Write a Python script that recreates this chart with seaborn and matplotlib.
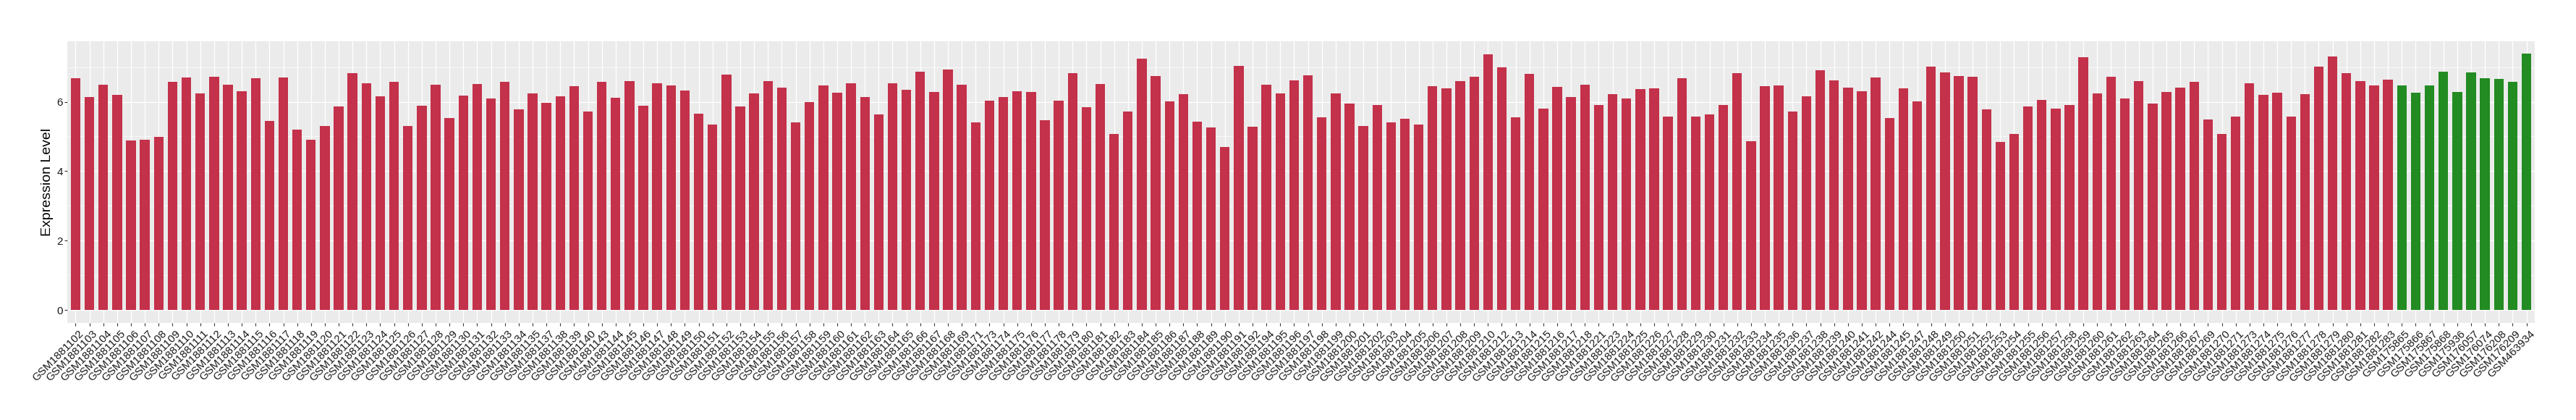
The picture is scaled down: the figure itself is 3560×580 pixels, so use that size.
import matplotlib
matplotlib.use("Agg")
import matplotlib.pyplot as plt
import matplotlib.transforms as mtransforms
from matplotlib.ticker import MultipleLocator
import seaborn as sns
import pandas as pd

samples = [
    "GSM1881102", "GSM1881103", "GSM1881104", "GSM1881105", "GSM1881106", "GSM1881107", "GSM1881108",
    "GSM1881109", "GSM1881110", "GSM1881111", "GSM1881112", "GSM1881113", "GSM1881114", "GSM1881115",
    "GSM1881116", "GSM1881117", "GSM1881118", "GSM1881119", "GSM1881120", "GSM1881121", "GSM1881122",
    "GSM1881123", "GSM1881124", "GSM1881125", "GSM1881126", "GSM1881127", "GSM1881128", "GSM1881129",
    "GSM1881130", "GSM1881131", "GSM1881132", "GSM1881133", "GSM1881134", "GSM1881135", "GSM1881137",
    "GSM1881138", "GSM1881139", "GSM1881140", "GSM1881143", "GSM1881144", "GSM1881145", "GSM1881146",
    "GSM1881147", "GSM1881148", "GSM1881149", "GSM1881150", "GSM1881151", "GSM1881152", "GSM1881153",
    "GSM1881154", "GSM1881155", "GSM1881156", "GSM1881157", "GSM1881158", "GSM1881159", "GSM1881160",
    "GSM1881161", "GSM1881162", "GSM1881163", "GSM1881164", "GSM1881165", "GSM1881166", "GSM1881167",
    "GSM1881168", "GSM1881169", "GSM1881171", "GSM1881173", "GSM1881174", "GSM1881175", "GSM1881176",
    "GSM1881177", "GSM1881178", "GSM1881179", "GSM1881180", "GSM1881181", "GSM1881182", "GSM1881183",
    "GSM1881184", "GSM1881185", "GSM1881186", "GSM1881187", "GSM1881188", "GSM1881189", "GSM1881190",
    "GSM1881191", "GSM1881192", "GSM1881194", "GSM1881195", "GSM1881196", "GSM1881197", "GSM1881198",
    "GSM1881199", "GSM1881200", "GSM1881201", "GSM1881202", "GSM1881203", "GSM1881204", "GSM1881205",
    "GSM1881206", "GSM1881207", "GSM1881208", "GSM1881209", "GSM1881210", "GSM1881212", "GSM1881213",
    "GSM1881214", "GSM1881215", "GSM1881216", "GSM1881217", "GSM1881218", "GSM1881221", "GSM1881223",
    "GSM1881224", "GSM1881225", "GSM1881226", "GSM1881227", "GSM1881228", "GSM1881229", "GSM1881230",
    "GSM1881231", "GSM1881232", "GSM1881233", "GSM1881234", "GSM1881235", "GSM1881236", "GSM1881237",
    "GSM1881238", "GSM1881239", "GSM1881240", "GSM1881241", "GSM1881242", "GSM1881244", "GSM1881245",
    "GSM1881247", "GSM1881248", "GSM1881249", "GSM1881250", "GSM1881251", "GSM1881252", "GSM1881253",
    "GSM1881254", "GSM1881255", "GSM1881256", "GSM1881257", "GSM1881258", "GSM1881259", "GSM1881260",
    "GSM1881261", "GSM1881262", "GSM1881263", "GSM1881264", "GSM1881265", "GSM1881266", "GSM1881267",
    "GSM1881269", "GSM1881270", "GSM1881271", "GSM1881273", "GSM1881274", "GSM1881275", "GSM1881276",
    "GSM1881277", "GSM1881278", "GSM1881279", "GSM1881280", "GSM1881281", "GSM1881282", "GSM1881283",
    "GSM175865", "GSM175866", "GSM175867", "GSM175868", "GSM175936", "GSM176057", "GSM176074",
    "GSM176208", "GSM176209", "GSM463934",
]

expression = [
    6.68, 6.14, 6.49, 6.20, 4.89, 4.91, 4.99,
    6.58, 6.70, 6.24, 6.72, 6.49, 6.30, 6.68,
    5.45, 6.70, 5.20, 4.91, 5.31, 5.87, 6.82,
    6.53, 6.15, 6.58, 5.31, 5.88, 6.49, 5.53,
    6.18, 6.51, 6.09, 6.58, 5.78, 6.24, 5.97,
    6.15, 6.45, 5.72, 6.58, 6.12, 6.59, 5.88,
    6.53, 6.47, 6.32, 5.66, 5.35, 6.78, 5.87,
    6.24, 6.59, 6.41, 5.41, 5.99, 6.47, 6.26,
    6.53, 6.14, 5.64, 6.53, 6.35, 6.86, 6.28,
    6.92, 6.49, 5.41, 6.03, 6.14, 6.30, 6.28,
    5.47, 6.03, 6.82, 5.85, 6.51, 5.08, 5.72,
    7.24, 6.74, 6.02, 6.22, 5.43, 5.26, 4.70,
    7.03, 5.28, 6.49, 6.24, 6.62, 6.76, 5.55,
    6.24, 5.95, 5.31, 5.91, 5.41, 5.52, 5.35,
    6.45, 6.38, 6.59, 6.72, 7.36, 6.99, 5.55,
    6.80, 5.80, 6.43, 6.14, 6.49, 5.91, 6.22,
    6.09, 6.36, 6.38, 5.58, 6.68, 5.58, 5.64,
    5.91, 6.82, 4.87, 6.45, 6.47, 5.72, 6.15,
    6.91, 6.62, 6.41, 6.30, 6.70, 5.53, 6.38,
    6.02, 7.01, 6.85, 6.74, 6.72, 5.78, 4.85,
    5.08, 5.87, 6.05, 5.80, 5.91, 7.28, 6.24,
    6.72, 6.09, 6.59, 5.95, 6.28, 6.41, 6.58,
    5.49, 5.08, 5.58, 6.53, 6.20, 6.26, 5.58,
    6.22, 7.01, 7.30, 6.82, 6.59, 6.47, 6.64,
    6.47, 6.26, 6.47, 6.86, 6.28, 6.85, 6.68,
    6.65, 6.58, 7.38,
]

groups = ["tumor"] * 168 + ["normal"] * 10
group_colors = {"tumor": "#C3314A", "normal": "#228B22"}

y_ticks = [0, 2, 4, 6]
y_title = "Expression Level"

df = pd.DataFrame({"sample": samples, "value": expression, "group": groups})

W, H = 3560, 580
fig = plt.figure(figsize=(W / 100, H / 100), dpi=100)
pl, pr, pt, pb = 93, 3503, 56.7, 445.7
ax = fig.add_axes([pl / W, 1 - pb / H, (pr - pl) / W, (pb - pt) / H])

sns.barplot(data=df, x="sample", y="value", hue="group", palette=group_colors,
            order=samples, dodge=False, width=0.7, saturation=1, legend=False, ax=ax)

n = len(samples)
ax.set_xlim(-0.6, n - 1 + 0.6)
ymax = max(expression)
ax.set_ylim(-0.05 * ymax, 1.05 * ymax)

ax.set_facecolor("#EBEBEB")
for s in ax.spines.values():
    s.set_visible(False)
ax.set_axisbelow(True)
ax.yaxis.set_major_locator(matplotlib.ticker.FixedLocator(y_ticks))
ax.yaxis.set_minor_locator(MultipleLocator(1))
ax.grid(True, which="major", axis="both", color="white", linewidth=1.0)
ax.grid(True, which="minor", axis="y", color="white", linewidth=0.5)
ax.tick_params(axis="y", which="minor", length=0)

font = "Liberation Sans"
ax.tick_params(axis="both", which="major", length=2.6, width=0.8, color="#333333",
               labelsize=11, labelcolor="#1a1a1a")
ax.tick_params(axis="y", pad=1.8)
ax.tick_params(axis="x", pad=3.0)
ax.set_xticks(range(n))
ax.set_xticklabels(samples, rotation=45, ha="right", va="top", rotation_mode="anchor",
                   fontfamily=font)
offset = mtransforms.ScaledTranslation(4 / 100, 0, fig.dpi_scale_trans)
for lab in ax.get_xticklabels():
    lab.set_transform(lab.get_transform() + offset)
for lab in ax.get_yticklabels():
    lab.set_fontfamily(font)

ax.set_xlabel("")
ax.set_ylabel(y_title, fontsize=14, fontfamily=font, color="black")
ax.yaxis.set_label_coords((65 - pl) / (pr - pl), 0.5)
ax.yaxis.label.set_va("center")

fig.savefig("out.png", dpi=100, facecolor="white")
